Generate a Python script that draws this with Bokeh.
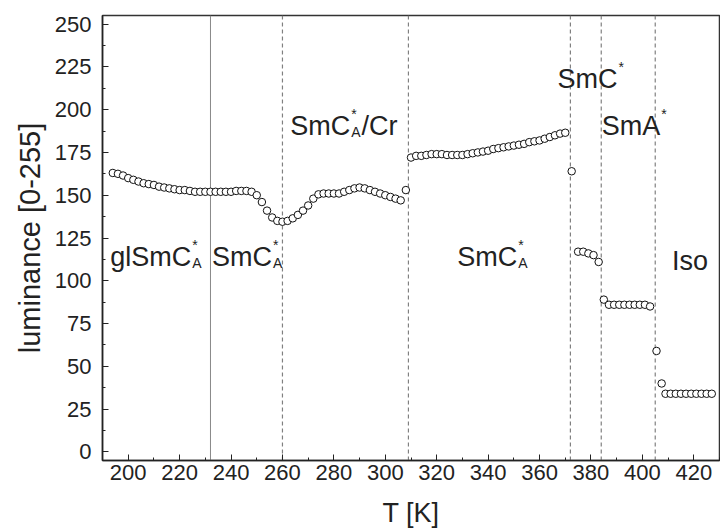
from bokeh.plotting import figure
from bokeh.models import Span, Label, SingleIntervalTicker
from bokeh.embed import file_html
from bokeh.resources import INLINE

# ---- data ----
T_K = [194, 196, 198, 200, 202, 204, 206, 208, 210, 212, 214, 216, 218, 220, 222, 224, 226, 228, 230,
       232, 234, 236, 238, 240, 242, 244, 246, 248, 250, 252, 254, 256, 258, 260, 262, 264, 266, 268,
       270, 272, 274, 276, 278, 280, 282, 284, 286, 288, 290, 292, 294, 296, 298, 300, 302, 304, 306,
       308,
       310, 312, 314, 316, 318, 320, 322, 324, 326, 328, 330, 332, 334, 336, 338, 340, 342, 344, 346,
       348, 350, 352, 354, 356, 358, 360, 362, 364, 366, 368, 370,
       372.5,
       375, 377, 379, 381, 383,
       385, 387, 389, 391, 393, 395, 397, 399, 401, 403,
       405.5, 407.5,
       409, 411, 413, 415, 417, 419, 421, 423, 425, 427]
luminance = [163, 162.5, 161.5, 160, 159, 158, 157, 156.5, 156, 155, 154.5, 154, 153.5, 153, 153, 152.5,
             152, 152, 152, 152, 152, 152, 152, 152, 152.5, 152.5, 152.5, 152, 150, 146, 141, 137, 135,
             134.5, 135, 136.5, 138.5, 141, 144, 148, 150.5, 151, 151, 151, 151, 152, 153, 154, 154.5,
             154, 153, 152, 151, 150, 149, 148, 147,
             153,
             172, 173, 173, 173.5, 174, 174, 174, 173.5, 173.5, 173.5, 173.5, 174, 174.5, 175, 175.5, 176,
             177, 177.5, 178, 178.5, 179, 179.5, 180, 181, 181.5, 182, 183, 184, 185, 186, 186.5,
             164,
             117, 117, 116, 115, 111,
             89, 86, 86, 86, 86, 86, 86, 86, 86, 85,
             59, 40,
             34, 34, 34, 34, 34, 34, 34, 34, 34, 34]

boundary_solid = [232]
boundaries_dashed = [260, 309, 372, 384, 405]

# phase labels: x, y, main text, superscript, subscript, tail
phase_x = [193, 232.6, 263, 328, 367, 384.2, 411.5]
phase_y = [114, 114, 190.5, 114, 218, 190.5, 111.5]
phase_main = ["glSmC", "SmC", "SmC", "SmC", "SmC", "SmA", "Iso"]
phase_sup = ["*", "*", "*", "*", "*", "*", ""]
phase_sub = ["A", "A", "A", "A", "", "", ""]
phase_tail = ["", "", "/Cr", "", "", "", ""]

FONT = "Liberation Sans"
INK = "#222222"
ARIAL_W = {"g": .556, "l": .222, "S": .667, "m": .833, "C": .722, "A": .667, "/": .278,
           "r": .333, "I": .278, "s": .5, "o": .556, "*": .389, "T": .611, " ": .278}


def text_w(s, size):
    return sum(ARIAL_W.get(c, .556) for c in s) * size


p = figure(frame_width=617, frame_height=445, x_range=(190, 430), y_range=(-5, 255),
           output_backend="svg", toolbar_location=None,
           min_border_left=102, min_border_right=1, min_border_top=15, min_border_bottom=70)
p.background_fill_color = "white"
p.border_fill_color = "white"
p.xgrid.visible = False
p.ygrid.visible = False
p.outline_line_color = "#333333"
p.outline_line_width = 1.5

p.xaxis.ticker = SingleIntervalTicker(interval=20, num_minor_ticks=2)
p.yaxis.ticker = SingleIntervalTicker(interval=25, num_minor_ticks=2)
for ax in (p.xaxis[0], p.yaxis[0]):
    ax.major_tick_in = 6
    ax.major_tick_out = 0
    ax.minor_tick_in = 3
    ax.minor_tick_out = 0
    ax.axis_line_color = INK
    ax.axis_line_width = 1.5
    ax.major_tick_line_color = INK
    ax.minor_tick_line_color = INK
    ax.major_label_text_font = FONT
    ax.major_label_text_font_size = "22px"
    ax.major_label_text_color = INK
    ax.axis_label_text_font = FONT
    ax.axis_label_text_font_style = "normal"
    ax.axis_label_text_color = INK
p.xaxis.major_label_standoff = 4
p.yaxis.major_label_standoff = 11
p.yaxis.axis_label = "luminance [0-255]"
p.yaxis.axis_label_text_font_size = "29px"
p.yaxis.axis_label_standoff = 6
p.xaxis.axis_label = "T [K]"
p.xaxis.axis_label_text_font_size = "27px"
p.xaxis.axis_label_standoff = 15

for xv in boundary_solid:
    p.add_layout(Span(location=xv, dimension="height", line_color="#888888", line_width=1,
                      level="underlay"))
for xv in boundaries_dashed:
    p.add_layout(Span(location=xv, dimension="height", line_color="#808080", line_width=1.2,
                      line_dash="4 3", level="underlay"))

p.scatter(T_K, luminance, marker="circle", size=7.5, fill_color="white", line_color="#111111",
          line_width=1)

MAIN = 27
SMALL = 14
for x, y, m, sup, sub, tail in zip(phase_x, phase_y, phase_main, phase_sup, phase_sub, phase_tail):
    p.add_layout(Label(x=x, y=y, text=m, text_font=FONT, text_font_size=f"{MAIN}px",
                       text_color=INK, text_baseline="alphabetic", text_align="left"))
    w = text_w(m, MAIN) + 1
    if sup:
        p.add_layout(Label(x=x, y=y, x_offset=w, y_offset=12, text=sup, text_font=FONT,
                           text_font_size=f"{SMALL}px", text_color=INK,
                           text_baseline="alphabetic", text_align="left"))
    if sub:
        p.add_layout(Label(x=x, y=y, x_offset=w, y_offset=-6, text=sub, text_font=FONT,
                           text_font_size=f"{SMALL}px", text_color=INK,
                           text_baseline="alphabetic", text_align="left"))
    if tail:
        w2 = w + text_w(sub, SMALL) + 1
        p.add_layout(Label(x=x, y=y, x_offset=w2, text=tail, text_font=FONT,
                           text_font_size=f"{MAIN}px", text_color=INK,
                           text_baseline="alphabetic", text_align="left"))

open("out.html", "w").write(file_html(p, INLINE))
